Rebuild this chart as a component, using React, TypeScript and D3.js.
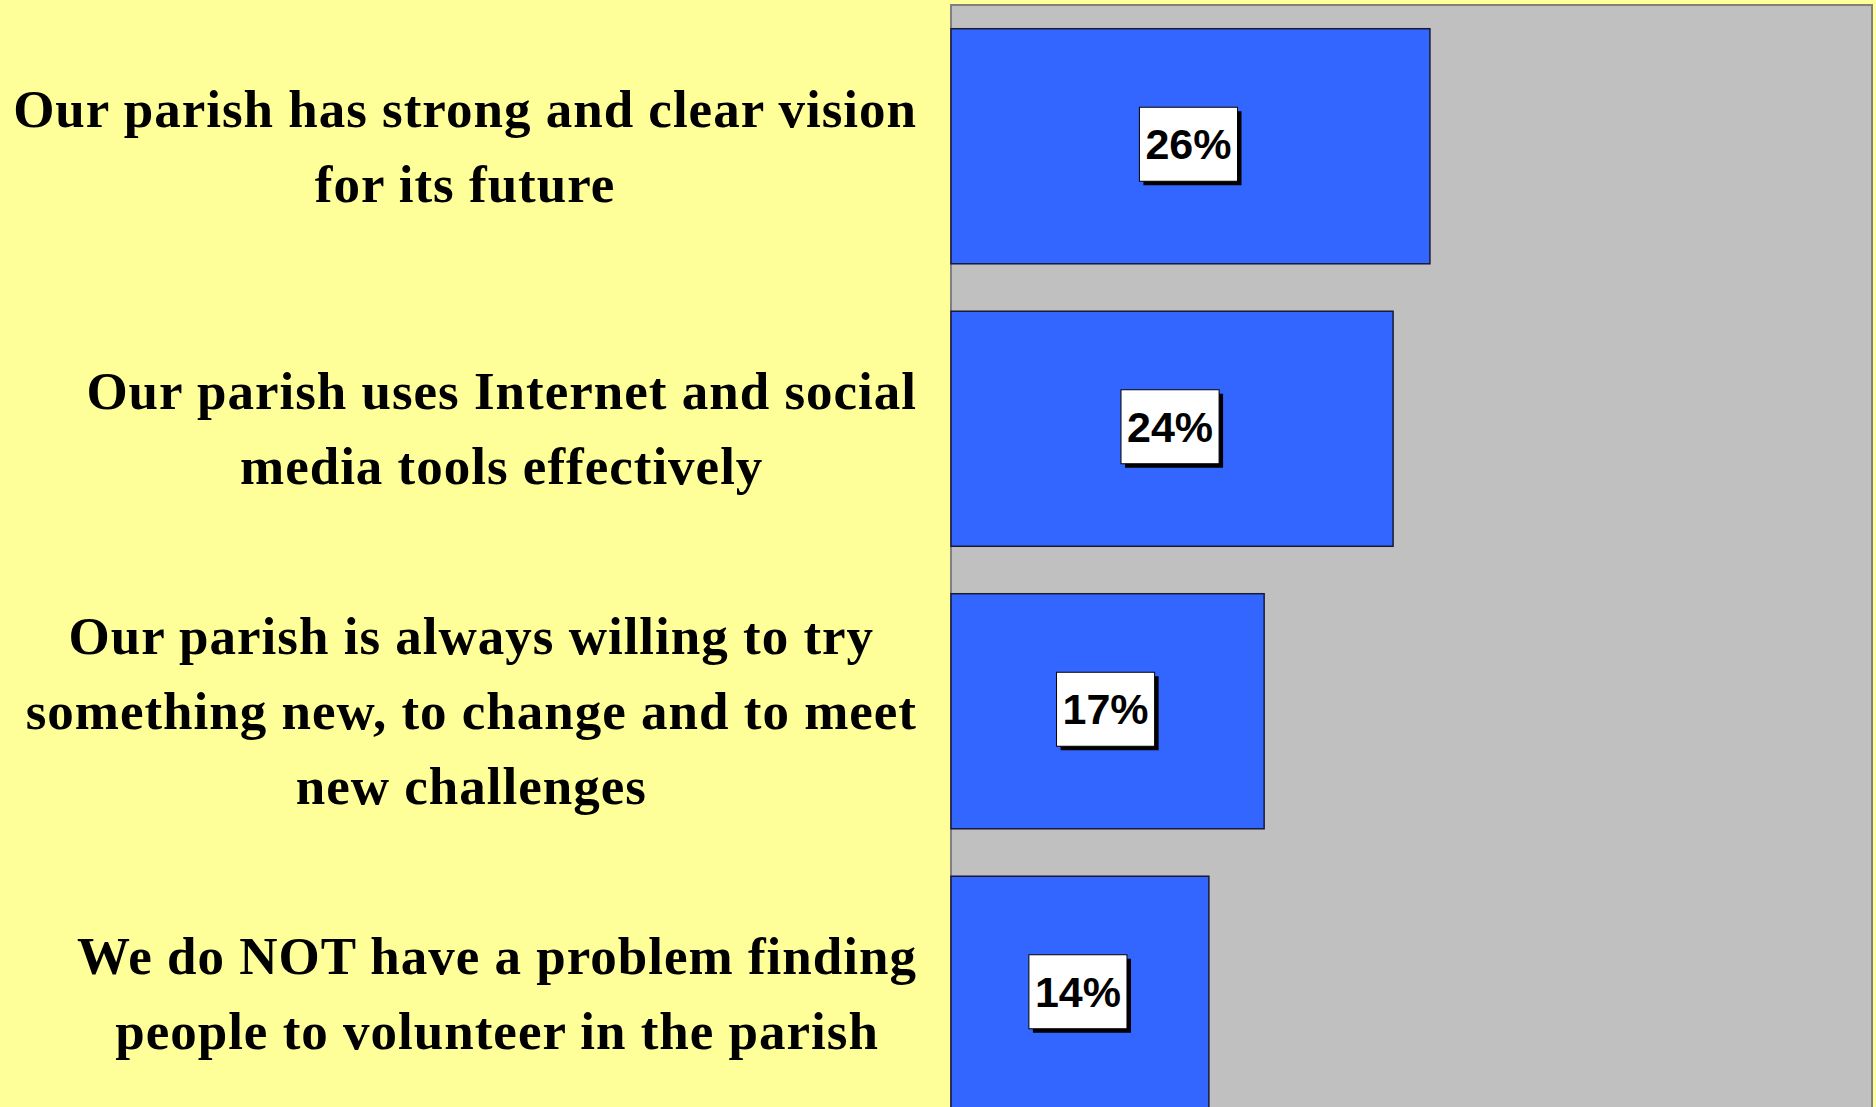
import React, { useEffect, useRef } from "react";
import * as d3 from "d3";

const categories: string[][] = [
  ["Our parish has strong and clear vision", "for its future"],
  ["Our parish uses Internet and social", "media tools effectively"],
  ["Our parish is always willing to try", "something new, to change and to meet", "new challenges"],
  ["We do NOT have a problem finding", "people to volunteer in the parish"],
];
const values: number[] = [0.26, 0.24, 0.17, 0.14];
const xDomain: [number, number] = [0, 0.5];

const W = 1876;
const H = 1107;

export default function App() {
  const ref = useRef<SVGSVGElement | null>(null);

  useEffect(() => {
    const svg = d3.select(ref.current);
    svg.selectAll("*").remove();

    const plotLeft = 951;
    const plotRight = 1872;
    const plotTop = 5;
    const plotBottom = 1135;

    const keys = categories.map((_, i) => String(i));
    const x = d3.scaleLinear().domain(xDomain).range([plotLeft, plotRight]);
    const y = d3
      .scaleBand<string>()
      .domain(keys)
      .range([plotTop, plotBottom])
      .paddingInner(0.168)
      .paddingOuter(0.084);

    svg.append("rect").attr("x", 0).attr("y", 0).attr("width", W).attr("height", H).attr("fill", "#FFFF99");

    svg
      .append("rect")
      .attr("x", plotLeft)
      .attr("y", plotTop)
      .attr("width", plotRight - plotLeft)
      .attr("height", plotBottom - plotTop)
      .attr("fill", "#C0C0C0")
      .attr("stroke", "#808080")
      .attr("stroke-width", 2);

    const g = svg.append("g");
    g.selectAll("rect.bar")
      .data(values)
      .join("rect")
      .attr("class", "bar")
      .attr("x", x(0))
      .attr("y", (_, i) => y(keys[i])!)
      .attr("width", (d) => x(d) - x(0))
      .attr("height", y.bandwidth())
      .attr("fill", "#3366FF")
      .attr("stroke", "#1a1a33")
      .attr("stroke-width", 1.5);

    // value labels
    const fmt = d3.format(".0%");
    values.forEach((v, i) => {
      const cx = (x(0) + x(v)) / 2 - 2;
      const cy = y(keys[i])! + y.bandwidth() / 2 - 2;
      const lg = svg.append("g");
      const t = lg
        .append("text")
        .attr("x", cx)
        .attr("y", cy)
        .attr("text-anchor", "middle")
        .attr("dominant-baseline", "central")
        .attr("font-family", "Liberation Sans, Arial, sans-serif")
        .attr("font-weight", "bold")
        .attr("font-size", 43)
        .attr("fill", "#000")
        .text(fmt(v));
      const tw = (t.node() as SVGTextElement).getComputedTextLength();
      const bw = tw + 12;
      const bh = 74;
      lg.insert("rect", "text")
        .attr("x", cx - bw / 2 + 4)
        .attr("y", cy - bh / 2 + 4)
        .attr("width", bw)
        .attr("height", bh)
        .attr("fill", "#000");
      lg.insert("rect", "text")
        .attr("x", cx - bw / 2)
        .attr("y", cy - bh / 2)
        .attr("width", bw)
        .attr("height", bh)
        .attr("fill", "#fff")
        .attr("stroke", "#000")
        .attr("stroke-width", 1);
    });

    // category labels
    const labelRight = 917;
    const lineH = 75;
    const capH = 36;
    categories.forEach((lines, i) => {
      const bandMid = y(keys[i])! + y.bandwidth() / 2;
      const lg = svg.append("g");
      const texts = lines.map((ln) =>
        lg
          .append("text")
          .attr("font-family", "Liberation Serif, Times New Roman, serif")
          .attr("font-weight", "bold")
          .attr("font-size", 53)
          .attr("letter-spacing", 1.0)
          .attr("fill", "#000")
          .attr("text-anchor", "middle")
          .text(ln)
      );
      const widths = texts.map((t) => (t.node() as SVGTextElement).getComputedTextLength());
      const maxW = d3.max(widths) || 0;
      const cx = labelRight - maxW / 2;
      const firstBaseline = bandMid - ((lines.length - 1) * lineH) / 2 + capH / 2;
      texts.forEach((t, j) => {
        t.attr("x", cx).attr("y", firstBaseline + j * lineH);
      });
    });
  }, []);

  return (
    <svg
      ref={ref}
      width={W}
      height={H}
      style={{ position: "absolute", left: 0, top: 0, display: "block" }}
    />
  );
}
